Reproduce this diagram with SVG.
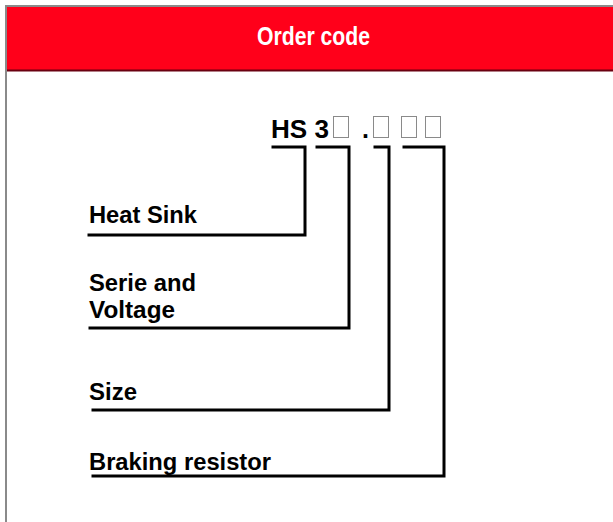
<svg xmlns="http://www.w3.org/2000/svg" width="613" height="522" viewBox="0 0 613 522">
<style>
.lbl{font-family:"Liberation Sans",Arial,sans-serif;font-weight:bold;font-size:23.5px;fill:#000}
.code{font-family:"Liberation Sans",Arial,sans-serif;font-weight:bold;font-size:25px;fill:#000}
.box{fill:none;stroke:#8a8a8a;stroke-width:1}
.conn{fill:none;stroke:#000;stroke-width:3;stroke-linejoin:miter;stroke-linecap:square}
</style>
<rect x="0" y="0" width="613" height="522" fill="#fff"/>
<g id="frame">
<line x1="6" y1="6" x2="613" y2="6" stroke="#8a8a8a" stroke-width="2"/>
<line x1="6" y1="5" x2="6" y2="522" stroke="#8a8a8a" stroke-width="2"/>
</g>
<g id="header">
<rect x="7" y="7" width="606" height="63" fill="#ff001a"/>
<line x1="7" y1="70.5" x2="613" y2="70.5" stroke="#6a0010" stroke-width="2"/>
<text x="313.5" y="44.5" text-anchor="middle" textLength="113" lengthAdjust="spacingAndGlyphs" style="font-family:'Liberation Sans Narrow','Liberation Sans',Arial,sans-serif;font-weight:bold;font-size:25px;fill:#fff">Order code</text>
</g>
<g id="code">
<text class="code" x="271" y="137.5" textLength="58" lengthAdjust="spacingAndGlyphs">HS 3</text>
<rect class="box" x="333.5" y="116.5" width="15" height="21"/>
<text class="code" x="362" y="137.5">.</text>
<rect class="box" x="373.5" y="116.5" width="15" height="21"/>
<rect class="box" x="401.5" y="116.5" width="15" height="21"/>
<rect class="box" x="425.5" y="116.5" width="15" height="21"/>
</g>
<g id="connectors">
<polyline class="conn" points="273,147 305,147 305,235 89,235"/>
<polyline class="conn" points="317,147 349,147 349,328 90,328"/>
<polyline class="conn" points="375,147 389,147 389,410 93,410"/>
<polyline class="conn" points="404,147 444,147 444,476 93,476"/>
</g>
<g id="heat-sink"><text class="lbl" x="89" y="222.5" textLength="108" lengthAdjust="spacingAndGlyphs">Heat Sink</text></g>
<g id="serie-voltage">
<text class="lbl" x="89" y="291" textLength="107" lengthAdjust="spacingAndGlyphs">Serie and</text>
<text class="lbl" x="89" y="318" textLength="86" lengthAdjust="spacingAndGlyphs">Voltage</text>
</g>
<g id="size"><text class="lbl" x="89" y="400" textLength="48" lengthAdjust="spacingAndGlyphs">Size</text></g>
<g id="braking-resistor"><text class="lbl" x="89" y="470" textLength="182" lengthAdjust="spacingAndGlyphs">Braking resistor</text></g>
</svg>
